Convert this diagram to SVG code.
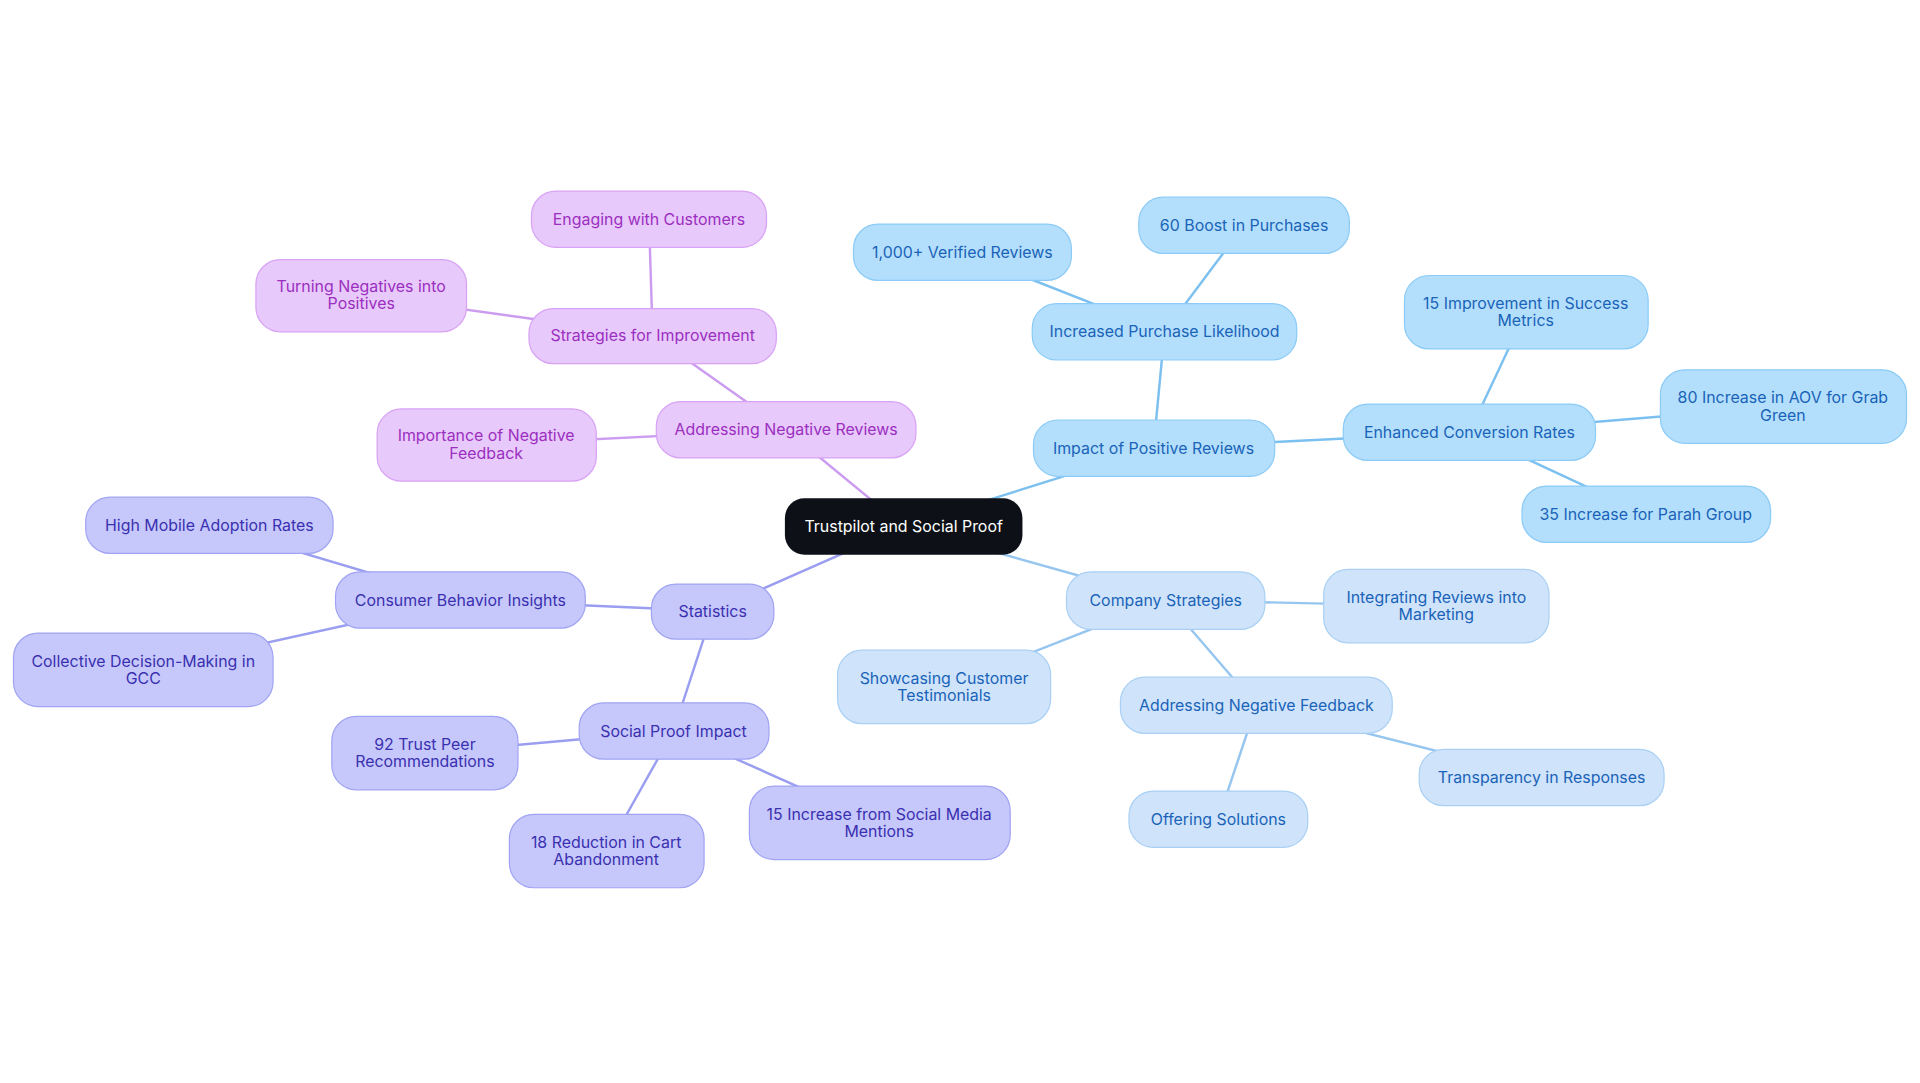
<svg xmlns="http://www.w3.org/2000/svg" width="1920" height="1083" viewBox="0 0 1920 1083">
<style>
text{font-family:Inter,"Noto Sans",sans-serif;font-size:13px;text-anchor:middle;dominant-baseline:central}
.p rect{fill:#e8c9fb;stroke:#d8a2f5;stroke-width:1}.p text{fill:#9b2fc0}
.i rect{fill:#c6c8fb;stroke:#a0a4f2;stroke-width:1}.i text{fill:#3a30b0}
.b rect{fill:#b3dffc;stroke:#8ccbf6;stroke-width:1}.b text{fill:#1a63b8}
.l rect{fill:#cfe4fb;stroke:#a9d0f4;stroke-width:1}.l text{fill:#1a63b8}
.c rect{fill:#0d1117}.c text{fill:#fff}
#edges line{stroke-width:2}
.ep{stroke:#cc9cf0}.ei{stroke:#9a9ef0}.eb{stroke:#7cc0f0}.el{stroke:#96c6f0}
</style>
<rect width="1920" height="1083" fill="#fff"/>
<g transform="scale(1.22449)">
<g id="edges">
<line class="ep" x1="738" y1="430" x2="642" y2="351"/>
<line class="ep" x1="642" y1="351" x2="533" y2="274"/>
<line class="ep" x1="533" y1="274" x2="530" y2="179"/>
<line class="ep" x1="533" y1="274" x2="295" y2="241"/>
<line class="ep" x1="642" y1="351" x2="397" y2="363"/>
<line class="ei" x1="738" y1="430" x2="582" y2="499"/>
<line class="ei" x1="582" y1="499" x2="376" y2="490"/>
<line class="ei" x1="376" y1="490" x2="171" y2="429"/>
<line class="ei" x1="376" y1="490" x2="117" y2="547"/>
<line class="ei" x1="582" y1="499" x2="550" y2="597"/>
<line class="ei" x1="550" y1="597" x2="347" y2="615"/>
<line class="ei" x1="550" y1="597" x2="495" y2="695"/>
<line class="ei" x1="550" y1="597" x2="718" y2="672"/>
<line class="eb" x1="738" y1="430" x2="942" y2="366"/>
<line class="eb" x1="942" y1="366" x2="951" y2="271"/>
<line class="eb" x1="951" y1="271" x2="786" y2="206"/>
<line class="eb" x1="951" y1="271" x2="1016" y2="184"/>
<line class="eb" x1="942" y1="366" x2="1200" y2="353"/>
<line class="eb" x1="1200" y1="353" x2="1246" y2="255"/>
<line class="eb" x1="1200" y1="353" x2="1456" y2="332"/>
<line class="eb" x1="1200" y1="353" x2="1344" y2="420"/>
<line class="el" x1="738" y1="430" x2="952" y2="490"/>
<line class="el" x1="952" y1="490" x2="1173" y2="495"/>
<line class="el" x1="952" y1="490" x2="771" y2="561"/>
<line class="el" x1="952" y1="490" x2="1026" y2="576"/>
<line class="el" x1="1026" y1="576" x2="1259" y2="635"/>
<line class="el" x1="1026" y1="576" x2="995" y2="669"/>
</g>
<g id="center" class="c"><rect x="641" y="407" width="194" height="46" rx="16"/><text x="738" y="430">Trustpilot and Social Proof</text></g>
<g id="p1" class="p"><rect x="536" y="328" width="212" height="46" rx="20"/><text x="642" y="351">Addressing Negative Reviews</text></g>
<g id="p2" class="p"><rect x="432" y="252" width="202" height="45" rx="20"/><text x="533" y="274">Strategies for Improvement</text></g>
<g id="p3" class="p"><rect x="434" y="156" width="192" height="46" rx="20"/><text x="530" y="179">Engaging with Customers</text></g>
<g id="p4" class="p"><rect x="209" y="212" width="172" height="59" rx="20"/><text x="295" y="234">Turning Negatives into</text><text x="295" y="248">Positives</text></g>
<g id="p5" class="p"><rect x="308" y="334" width="179" height="59" rx="20"/><text x="397" y="356">Importance of Negative</text><text x="397" y="370">Feedback</text></g>
<g id="i1" class="i"><rect x="532" y="477" width="100" height="45" rx="20"/><text x="582" y="499">Statistics</text></g>
<g id="i2" class="i"><rect x="274" y="467" width="204" height="46" rx="20"/><text x="376" y="490">Consumer Behavior Insights</text></g>
<g id="i3" class="i"><rect x="70" y="406" width="202" height="46" rx="20"/><text x="171" y="429">High Mobile Adoption Rates</text></g>
<g id="i4" class="i"><rect x="11" y="517" width="212" height="60" rx="20"/><text x="117" y="540">Collective Decision-Making in</text><text x="117" y="554">GCC</text></g>
<g id="i5" class="i"><rect x="473" y="574" width="155" height="46" rx="20"/><text x="550" y="597">Social Proof Impact</text></g>
<g id="i6" class="i"><rect x="271" y="585" width="152" height="60" rx="20"/><text x="347" y="608">92 Trust Peer</text><text x="347" y="622">Recommendations</text></g>
<g id="i7" class="i"><rect x="416" y="665" width="159" height="60" rx="20"/><text x="495" y="688">18 Reduction in Cart</text><text x="495" y="702">Abandonment</text></g>
<g id="i8" class="i"><rect x="612" y="642" width="213" height="60" rx="20"/><text x="718" y="665">15 Increase from Social Media</text><text x="718" y="679">Mentions</text></g>
<g id="b1" class="b"><rect x="844" y="343" width="197" height="46" rx="20"/><text x="942" y="366">Impact of Positive Reviews</text></g>
<g id="b2" class="b"><rect x="843" y="248" width="216" height="46" rx="20"/><text x="951" y="271">Increased Purchase Likelihood</text></g>
<g id="b3" class="b"><rect x="697" y="183" width="178" height="46" rx="20"/><text x="786" y="206">1,000+ Verified Reviews</text></g>
<g id="b4" class="b"><rect x="930" y="161" width="172" height="46" rx="20"/><text x="1016" y="184">60 Boost in Purchases</text></g>
<g id="b5" class="b"><rect x="1097" y="330" width="206" height="46" rx="20"/><text x="1200" y="353">Enhanced Conversion Rates</text></g>
<g id="b6" class="b"><rect x="1147" y="225" width="199" height="60" rx="20"/><text x="1246" y="248">15 Improvement in Success</text><text x="1246" y="262">Metrics</text></g>
<g id="b7" class="b"><rect x="1356" y="302" width="201" height="60" rx="20"/><text x="1456" y="325">80 Increase in AOV for Grab</text><text x="1456" y="339">Green</text></g>
<g id="b8" class="b"><rect x="1243" y="397" width="203" height="46" rx="20"/><text x="1344" y="420">35 Increase for Parah Group</text></g>
<g id="l1" class="l"><rect x="871" y="467" width="162" height="47" rx="20"/><text x="952" y="490">Company Strategies</text></g>
<g id="l2" class="l"><rect x="1081" y="465" width="184" height="60" rx="20"/><text x="1173" y="488">Integrating Reviews into</text><text x="1173" y="502">Marketing</text></g>
<g id="l3" class="l"><rect x="684" y="531" width="174" height="60" rx="20"/><text x="771" y="554">Showcasing Customer</text><text x="771" y="568">Testimonials</text></g>
<g id="l4" class="l"><rect x="915" y="553" width="222" height="46" rx="20"/><text x="1026" y="576">Addressing Negative Feedback</text></g>
<g id="l5" class="l"><rect x="1159" y="612" width="200" height="46" rx="20"/><text x="1259" y="635">Transparency in Responses</text></g>
<g id="l6" class="l"><rect x="922" y="646" width="146" height="46" rx="20"/><text x="995" y="669">Offering Solutions</text></g>
</g>
</svg>
